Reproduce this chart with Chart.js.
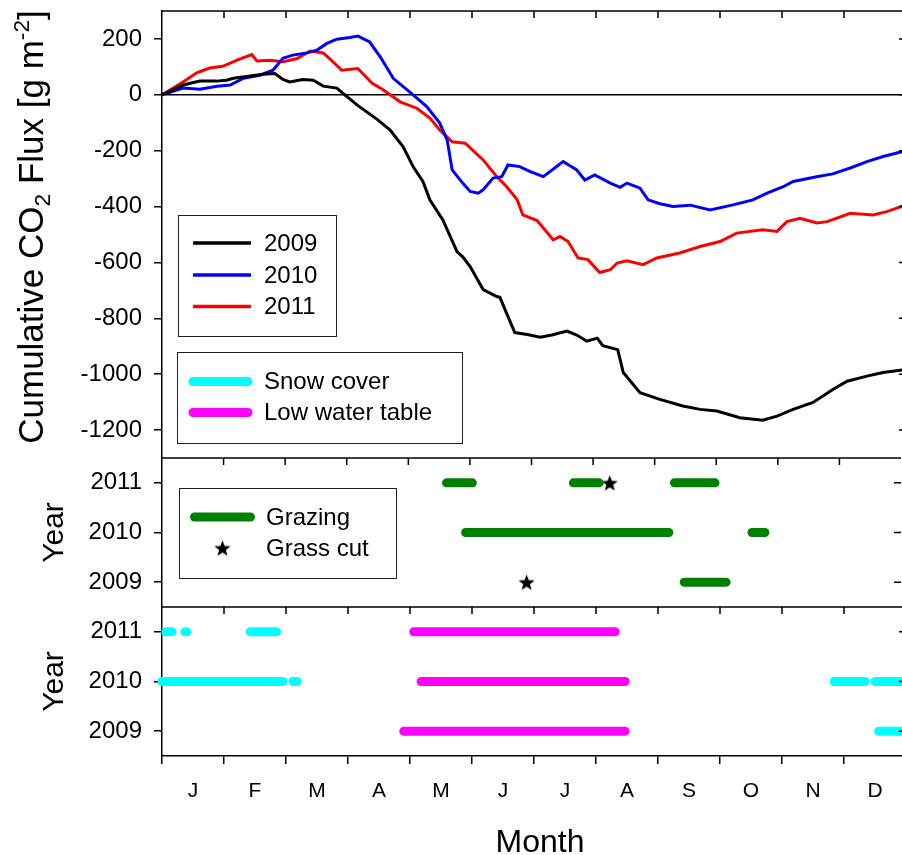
<!DOCTYPE html>
<html>
<head>
<meta charset="utf-8">
<script src="https://cdn.jsdelivr.net/npm/chart.js@4.4.1/dist/chart.umd.min.js"></script>
<style>
  html, body { margin: 0; padding: 0; background: #fff; overflow: hidden; width: 902px; height: 855px; }
  #wrap { position: relative; width: 910px; height: 855px; overflow: hidden; background: #fff; }
  #wrap canvas { position: absolute; left: 0; top: 0; }
</style>
</head>
<body>
<div id="wrap">
  <canvas id="flux" width="910" height="855"></canvas>
  <canvas id="mgmt" width="910" height="855"></canvas>
  <canvas id="cond" width="910" height="855"></canvas>
</div>
<script>
const FONT = '"Liberation Sans", Arial, Helvetica, sans-serif';

// ---- axis labels ----
const monthLabels = ['J', 'F', 'M', 'A', 'M', 'J', 'J', 'A', 'S', 'O', 'N', 'D'];
const fluxTicks = [-1200, -1000, -800, -600, -400, -200, 0, 200];
const yearTicks = [2009, 2010, 2011];

// ---- cumulative CO2 flux (x: months since 1 January, y: g m-2) ----
const month2009 = [0.00, 0.34, 0.61, 0.88, 1.04, 1.15, 1.42, 1.63, 1.82, 1.95, 2.06, 2.27, 2.44, 2.60, 2.82, 2.92,
  3.15, 3.47, 3.68, 3.89, 4.05, 4.21, 4.32, 4.53, 4.76, 4.85, 4.97, 5.18, 5.40, 5.45, 5.69, 5.89, 6.10, 6.29,
  6.53, 6.69, 6.85, 7.02, 7.11, 7.35, 7.44, 7.71, 8.03, 8.40, 8.68, 8.95, 9.32, 9.69, 9.92, 10.18, 10.50,
  10.82, 11.05, 11.37, 11.63, 12.00];
const flux2009 = [0, 35, 49, 49, 52, 59, 67, 74, 76, 55, 46, 55, 52, 31, 24, 5,
  -37, -88, -126, -186, -257, -311, -376, -448, -562, -580, -615, -697, -722, -725, -851, -858, -868, -860,
  -846, -860, -882, -871, -898, -912, -994, -1066, -1090, -1114, -1126, -1132, -1156, -1165, -1150, -1126, -1101,
  -1055, -1025, -1007, -994, -983];

const month2010 = [0.00, 0.34, 0.61, 0.89, 1.10, 1.31, 1.58, 1.79, 1.95, 2.11, 2.34, 2.50, 2.66, 2.82, 3.03, 3.16,
  3.35, 3.52, 3.73, 4.05, 4.27, 4.48, 4.60, 4.68, 4.85, 4.97, 5.10, 5.18, 5.34, 5.48, 5.58, 5.77, 5.94, 6.15,
  6.47, 6.69, 6.82, 6.98, 7.23, 7.39, 7.50, 7.71, 7.84, 8.03, 8.24, 8.52, 8.84, 9.21, 9.53, 9.76, 10.02,
  10.18, 10.56, 10.82, 11.10, 11.37, 11.63, 12.00];
const flux2010 = [0, 24, 20, 31, 35, 59, 70, 88, 131, 142, 150, 160, 184, 199, 205, 210,
  189, 136, 59, 0, -42, -101, -162, -269, -316, -346, -352, -340, -298, -293, -251, -257, -275, -293,
  -239, -269, -305, -287, -316, -331, -316, -334, -376, -390, -400, -395, -412, -394, -376, -352, -329,
  -310, -293, -283, -262, -239, -221, -200];

const month2011 = [0.00, 0.34, 0.56, 0.77, 0.98, 1.21, 1.45, 1.53, 1.74, 1.95, 2.18, 2.39, 2.60, 2.76, 2.90, 3.16,
  3.39, 3.56, 3.84, 4.11, 4.32, 4.48, 4.68, 4.89, 5.18, 5.40, 5.56, 5.73, 5.82, 6.05, 6.31, 6.42, 6.55,
  6.71, 6.87, 7.06, 7.23, 7.34, 7.50, 7.76, 7.98, 8.35, 8.68, 9.00, 9.27, 9.69, 9.92, 10.08, 10.29,
  10.56, 10.73, 11.10, 11.47, 11.69, 12.00];
const flux2011 = [0, 46, 79, 96, 102, 124, 144, 121, 124, 118, 130, 157, 150, 118, 88, 94,
  41, 19, -25, -48, -83, -126, -168, -173, -233, -293, -329, -376, -430, -450, -519, -507, -525,
  -584, -590, -636, -626, -602, -594, -608, -584, -566, -543, -525, -495, -483, -489, -454, -442,
  -459, -454, -424, -430, -418, -394];

// ---- management periods [start, end] in months ----
const grazing2011 = [[4.62, 5.04], [6.68, 7.10], [8.32, 8.98]];
const grazing2010 = [[4.93, 8.23], [9.58, 9.79]];
const grazing2009 = [[8.48, 9.16]];
const grassCut2011 = [7.27];
const grassCut2009 = [5.92];

// ---- site conditions [start, end] in months ----
const snow2011 = [[0.06, 0.16], [0.37, 0.40], [1.42, 1.85]];
const snow2010 = [[0.00, 1.95], [2.11, 2.18], [10.84, 11.34], [11.50, 12.00]];
const snow2009 = [[11.56, 12.00]];
const lowWater2011 = [[4.06, 7.31]];
const lowWater2010 = [[4.18, 7.47]];
const lowWater2009 = [[3.90, 7.47]];

const BLACK = '#000000', BLUE = '#0000FF', RED = '#FF0000';
const GREEN = '#008000', CYAN = '#00FFFF', MAGENTA = '#FF00FF';

// ---- helpers ----
const pts = (xs, ys) => xs.map((x, i) => ({ x, y: ys[i] }));

function periodSets(ranges, year, color, label) {
  return ranges.map(r => ({
    label,
    data: [{ x: r[0], y: year }, { x: r[1], y: year }],
    borderColor: color, backgroundColor: color,
    borderWidth: 9, borderCapStyle: 'round',
    pointRadius: 0, clip: false
  }));
}

function starImage(size) {
  const c = document.createElement('canvas');
  c.width = c.height = size;
  const g = c.getContext('2d');
  const R = size / 2, r = R * 0.42, cy = R + size * 0.05;
  g.fillStyle = '#000';
  g.beginPath();
  for (let i = 0; i < 10; i++) {
    const a = -Math.PI / 2 + i * Math.PI / 5;
    const rad = i % 2 ? r : R;
    g.lineTo(R + rad * Math.cos(a), cy + rad * Math.sin(a));
  }
  g.closePath();
  g.fill();
  return c;
}
const STAR = starImage(17);

// panel frame: top edge with inward month ticks, inward ticks on the right edge
const frame = {
  id: 'frame',
  afterDraw(chart, args, opts) {
    const { ctx, chartArea: a, scales } = chart;
    ctx.save();
    ctx.strokeStyle = '#000';
    ctx.lineWidth = 1.5;
    ctx.beginPath();
    ctx.moveTo(a.left - 0.75, a.top);
    ctx.lineTo(a.right, a.top);
    for (let m = 1; m < 12; m++) {
      const x = scales.x.getPixelForValue(m);
      ctx.moveTo(x, a.top);
      ctx.lineTo(x, a.top + 7);
    }
    for (const v of opts.yTicks) {
      const y = scales.y.getPixelForValue(v);
      ctx.moveTo(a.right, y);
      ctx.lineTo(a.right - 7, y);
    }
    ctx.stroke();
    ctx.restore();
  }
};

// boxed legends inside the panels
const boxLegend = {
  id: 'boxLegend',
  afterDraw(chart, args, opts) {
    const ctx = chart.ctx;
    for (const box of opts.boxes || []) {
      ctx.save();
      ctx.strokeStyle = '#222';
      ctx.lineWidth = 1;
      ctx.strokeRect(box.x + 0.5, box.y + 0.5, box.w, box.h);
      ctx.font = box.fontSize + 'px ' + FONT;
      ctx.textBaseline = 'middle';
      ctx.textAlign = 'left';
      for (const it of box.items) {
        if (it.marker === 'star') {
          ctx.drawImage(STAR, it.cx - STAR.width / 2, it.y - STAR.height / 2);
        } else {
          ctx.strokeStyle = it.color;
          ctx.lineWidth = it.width;
          ctx.lineCap = it.cap || 'butt';
          ctx.beginPath();
          ctx.moveTo(it.x1, it.y);
          ctx.lineTo(it.x2, it.y);
          ctx.stroke();
        }
        ctx.fillStyle = '#000';
        ctx.fillText(it.text, box.textX, it.y + 1);
      }
      ctx.restore();
    }
  }
};

// axis titles (rotated titles may carry sub/superscripts)
const titles = {
  id: 'titles',
  afterDraw(chart, args, opts) {
    const ctx = chart.ctx;
    for (const t of opts.items || []) {
      ctx.save();
      ctx.fillStyle = '#000';
      ctx.textBaseline = 'alphabetic';
      ctx.textAlign = 'left';
      const parts = t.parts.map(p => {
        const size = p.sub || p.sup ? t.size * 0.65 : t.size;
        ctx.font = size + 'px ' + FONT;
        return { text: p.text, size, w: ctx.measureText(p.text).width, dy: p.sub ? t.size * 0.2 : (p.sup ? -t.size * 0.4 : 0) };
      });
      const total = parts.reduce((s, p) => s + p.w, 0);
      ctx.translate(t.x, t.y);
      if (t.rotate) ctx.rotate(-Math.PI / 2);
      let x = -total / 2;
      for (const p of parts) {
        ctx.font = p.size + 'px ' + FONT;
        ctx.fillText(p.text, x, p.dy);
        x += p.w;
      }
      ctx.restore();
    }
  }
};

function yScale(min, max, tickValues, withZeroLine) {
  return {
    type: 'linear', min, max,
    afterFit(s) { s.width = 162; s.paddingTop = 0; s.paddingBottom = 0; },
    afterBuildTicks(s) { s.ticks = tickValues.map(v => ({ value: v })); },
    ticks: { callback: v => String(v), font: { family: FONT, size: 24 }, color: '#000', padding: 12 },
    grid: {
      drawOnChartArea: !!withZeroLine,
      color: c => (withZeroLine && c.tick && c.tick.value === 0) ? '#000' : 'rgba(0,0,0,0)',
      tickColor: '#000', tickLength: 8, lineWidth: 1.5
    },
    border: { display: true, color: '#000', width: 1.5 }
  };
}

const common = {
  responsive: false,
  animation: false,
  devicePixelRatio: 1,
  events: [],
  elements: { point: { radius: 0 }, line: { tension: 0 } }
};

// ---- panel 1: cumulative flux ----
new Chart(document.getElementById('flux'), {
  type: 'line',
  data: {
    datasets: [
      { label: '2009', data: pts(month2009, flux2009), borderColor: BLACK, borderWidth: 3 },
      { label: '2010', data: pts(month2010, flux2010), borderColor: BLUE, borderWidth: 3 },
      { label: '2011', data: pts(month2011, flux2011), borderColor: RED, borderWidth: 3 }
    ]
  },
  options: Object.assign({}, common, {
    layout: { padding: { left: 0, top: 11, right: 4, bottom: 397 } },
    scales: {
      x: { type: 'linear', min: 0, max: 12, display: false },
      y: yScale(-1300, 300, fluxTicks, true)
    },
    plugins: {
      legend: { display: false }, tooltip: { enabled: false },
      frame: { yTicks: fluxTicks },
      boxLegend: {
        boxes: [
          { x: 178, y: 215, w: 158, h: 121, fontSize: 24, textX: 264, items: [
            { text: '2009', color: BLACK, width: 3.5, x1: 193, x2: 251, y: 243 },
            { text: '2010', color: BLUE, width: 3.5, x1: 193, x2: 251, y: 275 },
            { text: '2011', color: RED, width: 3.5, x1: 193, x2: 251, y: 306.5 }
          ] },
          { x: 177, y: 352, w: 285, h: 91, fontSize: 24, textX: 264, items: [
            { text: 'Snow cover', color: CYAN, width: 9, cap: 'round', x1: 193, x2: 248, y: 381.5 },
            { text: 'Low water table', color: MAGENTA, width: 9, cap: 'round', x1: 193, x2: 248, y: 412.5 }
          ] }
        ]
      },
      titles: {
        items: [
          { rotate: true, x: 43, y: 227, size: 35, parts: [
            { text: 'Cumulative CO' }, { text: '2', sub: true }, { text: ' Flux [g m' }, { text: '-2', sup: true }, { text: ']' }
          ] }
        ]
      }
    }
  }),
  plugins: [frame, boxLegend, titles]
});

// ---- panel 2: grazing and grass cuts ----
new Chart(document.getElementById('mgmt'), {
  type: 'line',
  data: {
    datasets: [].concat(
      periodSets(grazing2011, 2011, GREEN, 'Grazing'),
      periodSets(grazing2010, 2010, GREEN, 'Grazing'),
      periodSets(grazing2009, 2009, GREEN, 'Grazing'),
      [
        { label: 'Grass cut', data: grassCut2011.map(x => ({ x, y: 2011 })), showLine: false, pointStyle: STAR, pointRadius: 8, clip: false },
        { label: 'Grass cut', data: grassCut2009.map(x => ({ x, y: 2009 })), showLine: false, pointStyle: STAR, pointRadius: 8, clip: false }
      ]
    )
  },
  options: Object.assign({}, common, {
    layout: { padding: { left: 0, top: 458, right: 4, bottom: 248 } },
    scales: {
      x: { type: 'linear', min: 0, max: 12, display: false },
      y: yScale(2008.5, 2011.5, yearTicks, false)
    },
    plugins: {
      legend: { display: false }, tooltip: { enabled: false },
      frame: { yTicks: yearTicks },
      boxLegend: {
        boxes: [
          { x: 179, y: 488, w: 217, h: 90, fontSize: 24, textX: 266, items: [
            { text: 'Grazing', color: GREEN, width: 9, cap: 'round', x1: 194.5, x2: 250.5, y: 517 },
            { text: 'Grass cut', marker: 'star', cx: 222.5, y: 548 }
          ] }
        ]
      },
      titles: { items: [{ rotate: true, x: 63, y: 532.5, size: 30, parts: [{ text: 'Year' }] }] }
    }
  }),
  plugins: [frame, boxLegend, titles]
});

// ---- panel 3: snow cover and low water table ----
new Chart(document.getElementById('cond'), {
  type: 'line',
  data: {
    datasets: [].concat(
      periodSets(snow2011, 2011, CYAN, 'Snow cover'),
      periodSets(snow2010, 2010, CYAN, 'Snow cover'),
      periodSets(snow2009, 2009, CYAN, 'Snow cover'),
      periodSets(lowWater2011, 2011, MAGENTA, 'Low water table'),
      periodSets(lowWater2010, 2010, MAGENTA, 'Low water table'),
      periodSets(lowWater2009, 2009, MAGENTA, 'Low water table')
    )
  },
  options: Object.assign({}, common, {
    layout: { padding: { left: 0, top: 607, right: 4, bottom: 0 } },
    scales: {
      x: {
        type: 'linear', min: 0, max: 12, position: 'bottom',
        afterFit(s) { s.height = 99; s.paddingLeft = 0; s.paddingRight = 0; },
        afterBuildTicks(s) {
          const t = [];
          for (let i = 0; i <= 24; i++) t.push({ value: i / 2 });
          s.ticks = t;
        },
        ticks: {
          autoSkip: false, maxRotation: 0, minRotation: 0,
          callback: v => Number.isInteger(v) ? '' : monthLabels[Math.floor(v)],
          font: { family: FONT, size: 21 }, color: '#000', padding: 15
        },
        grid: {
          drawOnChartArea: false,
          color: c => (c.tick && Number.isInteger(c.tick.value)) ? '#000' : 'rgba(0,0,0,0)',
          tickLength: 8, lineWidth: 1.5
        },
        border: { display: true, color: '#000', width: 1.5 }
      },
      y: yScale(2008.5, 2011.5, yearTicks, false)
    },
    plugins: {
      legend: { display: false }, tooltip: { enabled: false },
      frame: { yTicks: yearTicks },
      titles: {
        items: [
          { rotate: true, x: 63, y: 681.5, size: 30, parts: [{ text: 'Year' }] },
          { rotate: false, x: 540, y: 852, size: 32, parts: [{ text: 'Month' }] }
        ]
      }
    }
  }),
  plugins: [frame, titles]
});
</script>
</body>
</html>
